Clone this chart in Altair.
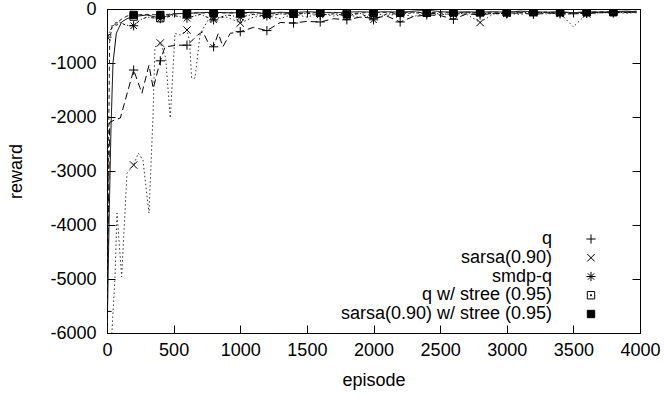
import altair as alt
import pandas as pd

SERIES = ["q", "sarsa(0.90)", "smdp-q", "q w/ stree (0.95)", "sarsa(0.90) w/ stree (0.95)"]

LATE_EP = list(range(1000, 4000, 100)) + [3975]

# q
Q_EP = [0, 20, 60, 100, 200, 262, 315, 347, 400, 435, 530, 600, 645, 680, 720, 760, 800, 835, 870, 925] + LATE_EP
Q_R = [-5600, -2100, -2050, -2020, -1130, -1560, -1040, -1470, -960, -700, -670, -670, -570, -480, -420, -630, -700, -450, -700, -450,
       -420, -340, -400, -250, -260, -230, -240, -180, -200, -150, -170, -130, -240, -140, -110, -120, -190, -90, -110, -80,
       -90, -70, -100, -80, -70, -90, -80, -60, -70, -60, -70]

# sarsa(0.90)
S_EP = [0, 37, 60, 75, 110, 150, 200, 235, 270, 315, 330, 345, 360, 400, 440, 475, 510, 550, 600, 620, 635, 660, 700, 760, 800, 900] + LATE_EP
S_R = [-6300, -5980, -4960, -3780, -4960, -3040, -2890, -2670, -2800, -3780, -2900, -2000, -700, -630, -900, -2020, -450, -480, -390, -600,
       -1280, -1280, -450, -200, -170, -150,
       -260, -150, -120, -180, -90, -150, -80, -130, -100, -160, -80, -120, -90, -140, -70, -110, -80, -100, -250, -90,
       -80, -100, -70, -90, -80, -330, -90, -70, -60, -80, -60]

# smdp-q
M_EP = [0, 20, 60, 100, 140, 200, 250, 300, 400, 500, 600, 700, 800, 900] + LATE_EP
M_R = [-520, -420, -260, -250, -300, -310, -200, -150, -180, -120, -170, -100, -200, -110,
       -150, -100, -130, -90, -100, -80, -110, -90, -120, -80, -200, -90, -90, -70, -80, -90, -100, -70, -80, -90,
       -80, -70, -70, -60, -90, -90, -80, -70, -70, -60, -60]

# q w/ stree (0.95)
QS_EP = [0, 15, 30, 45, 70, 110, 150, 200, 300, 400, 500, 600, 700, 800, 900] + LATE_EP
QS_R = [-6200, -4000, -2200, -1000, -450, -240, -180, -140, -110, -170, -90, -80, -70, -60, -70,
        -70, -60, -90, -60, -70, -50, -60, -70, -60, -50, -60, -50, -60, -40, -20, -50, -60, -50, -60, -50,
        -60, -40, -50, -60, -50, -70, -50, -60, -50, -40, -50]

# sarsa(0.90) w/ stree (0.95)
SS_EP = [0, 10, 20, 40, 75, 100, 150, 200, 300, 400, 500, 600, 700, 800, 900] + LATE_EP
SS_R = [-6200, -3000, -600, -280, -300, -200, -130, -110, -100, -110, -90, -80, -70, -80, -70,
        -80, -70, -80, -70, -90, -70, -70, -60, -100, -70, -70, -60, -70, -60, -70, -60, -60, -70, -60, -60,
        -60, -50, -60, -60, -60, -70, -60, -50, -60, -50, -40]

X_TICKS = [0, 500, 1000, 1500, 2000, 2500, 3000, 3500, 4000]
Y_TICKS = [-6000, -5000, -4000, -3000, -2000, -1000, 0]

DASHES = [[7, 4], [1.5, 2.5], [3, 2, 1, 2], [1, 0], [4, 3]]
LINE_COLORS = ["#000000", "#333333", "#000000", "#000000", "#222222"]
SHAPES = [
    "M-1,0L1,0M0,-1L0,1",
    "M-0.8,-0.8L0.8,0.8M-0.8,0.8L0.8,-0.8",
    "M-1,0L1,0M0,-1L0,1M-0.7,-0.7L0.7,0.7M-0.7,0.7L0.7,-0.7",
    "M-0.8,-0.8L0.8,-0.8L0.8,0.8L-0.8,0.8Z M-0.12,-0.12L0.12,-0.12L0.12,0.12L-0.12,0.12Z",
    "M-0.8,-0.8L0.8,-0.8L0.8,0.8L-0.8,0.8Z",
]
FILLS = ["transparent", "transparent", "transparent", "transparent", "#000000"]

rows = []
for name, eps, rs in [(SERIES[0], Q_EP, Q_R), (SERIES[1], S_EP, S_R), (SERIES[2], M_EP, M_R),
                      (SERIES[3], QS_EP, QS_R), (SERIES[4], SS_EP, SS_R)]:
    assert len(eps) == len(rs), name
    for e, r in zip(eps, rs):
        rows.append({"series": name, "episode": e, "reward": r})
df = pd.DataFrame(rows)
markers = df[(df["episode"] % 200 == 0) & (df["episode"] <= 3800)]
legend_df = pd.DataFrame({"series": SERIES})

FONT = "Liberation Sans"
FS = 18
W, H = 533, 324

xscale = alt.Scale(domain=[0, 4000], nice=False, zero=False)
yscale = alt.Scale(domain=[-6000, 0], nice=False, zero=False)
shape_scale = alt.Scale(domain=SERIES, range=SHAPES)
fill_scale = alt.Scale(domain=SERIES, range=FILLS)

x_axis = alt.Axis(values=X_TICKS, title="episode", ticks=False, domain=False, grid=True,
                  gridColor="black", gridOpacity=1, gridWidth=1, gridDash=[8, H - 16, 8, 2000],
                  labelPadding=8, titlePadding=12, labelFlush=False, labelExpr="'' + datum.value")
y_axis = alt.Axis(values=Y_TICKS, title="reward", ticks=False, domain=False, grid=True,
                  gridColor="black", gridOpacity=1, gridWidth=1, gridDash=[8, W - 16, 8, 2000],
                  labelPadding=11, titlePadding=24, labelFlush=False, labelExpr="'' + datum.value")

lines = alt.Chart(df).mark_line(clip=True, strokeWidth=1).encode(
    x=alt.X("episode:Q", scale=xscale, axis=x_axis),
    y=alt.Y("reward:Q", scale=yscale, axis=y_axis),
    color=alt.Color("series:N", scale=alt.Scale(domain=SERIES, range=LINE_COLORS), legend=None),
    strokeDash=alt.StrokeDash("series:N", scale=alt.Scale(domain=SERIES, range=DASHES), legend=None),
    order="episode:Q",
)

points = alt.Chart(markers).mark_point(clip=True, stroke="black", strokeWidth=1, opacity=1, size=85).encode(
    x=alt.X("episode:Q", scale=xscale),
    y=alt.Y("reward:Q", scale=yscale, axis=None),
    shape=alt.Shape("series:N", scale=shape_scale, legend=None),
    fill=alt.Fill("series:N", scale=fill_scale, legend=None),
)

# key (gnuplot style: right-aligned label, symbol to its right)
key_y = alt.Y("series:N", sort=SERIES, axis=None,
              scale=alt.Scale(domain=SERIES, range=[230, 305], padding=0))
key_text = alt.Chart(legend_df).mark_text(align="right", baseline="middle", font=FONT, fontSize=FS,
                                          color="black").encode(
    x=alt.value(445), y=key_y, text="series:N")
key_sym = alt.Chart(legend_df).mark_point(stroke="black", strokeWidth=1, opacity=1, size=85).encode(
    x=alt.value(484), y=key_y,
    shape=alt.Shape("series:N", scale=shape_scale, legend=None),
    fill=alt.Fill("series:N", scale=fill_scale, legend=None),
)

chart = alt.layer(lines, points, key_text, key_sym).resolve_scale(y="independent").properties(
    width=W, height=H,
    autosize=alt.AutoSizeParams(type="none"),
    padding={"left": 107, "top": 9, "right": 24, "bottom": 63},
).configure_view(stroke="black", strokeWidth=1).configure_axis(
    labelFont=FONT, labelFontSize=FS, labelColor="black",
    titleFont=FONT, titleFontSize=FS, titleColor="black", titleFontWeight="normal",
)

chart.save("out.html", embed_options={"renderer": "svg", "actions": False})
